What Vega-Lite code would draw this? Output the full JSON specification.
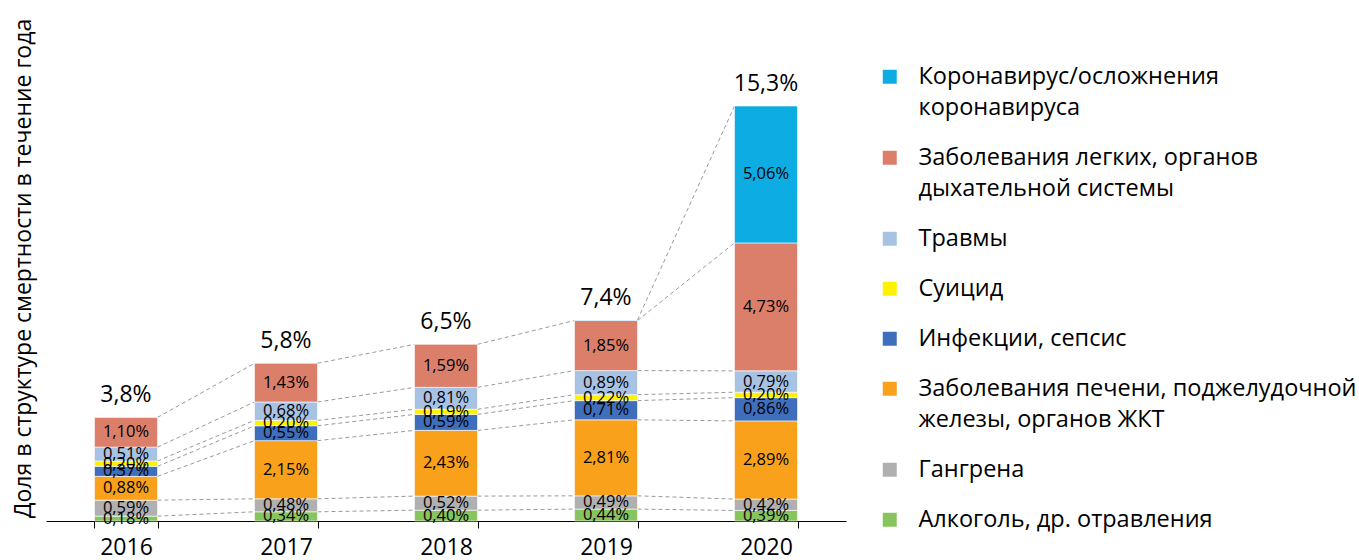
{
  "$schema": "https://vega.github.io/schema/vega-lite/v6.json",
  "autosize": {"type": "none"},
  "width": 800,
  "height": 514,
  "padding": {"left": 46, "top": 7, "right": 513, "bottom": 39},
  "data": {
    "values": [
      {"year": "2016", "cause": "Алкоголь, др. отравления", "k": 1, "value": 0.0018},
      {"year": "2016", "cause": "Гангрена", "k": 2, "value": 0.0059},
      {"year": "2016", "cause": "Заболевания печени, поджелудочной железы, органов ЖКТ", "k": 3, "value": 0.0088},
      {"year": "2016", "cause": "Инфекции, сепсис", "k": 4, "value": 0.0037},
      {"year": "2016", "cause": "Суицид", "k": 5, "value": 0.0020},
      {"year": "2016", "cause": "Травмы", "k": 6, "value": 0.0051},
      {"year": "2016", "cause": "Заболевания легких, органов дыхательной системы", "k": 7, "value": 0.0110},
      {"year": "2017", "cause": "Алкоголь, др. отравления", "k": 1, "value": 0.0034},
      {"year": "2017", "cause": "Гангрена", "k": 2, "value": 0.0048},
      {"year": "2017", "cause": "Заболевания печени, поджелудочной железы, органов ЖКТ", "k": 3, "value": 0.0215},
      {"year": "2017", "cause": "Инфекции, сепсис", "k": 4, "value": 0.0055},
      {"year": "2017", "cause": "Суицид", "k": 5, "value": 0.0020},
      {"year": "2017", "cause": "Травмы", "k": 6, "value": 0.0068},
      {"year": "2017", "cause": "Заболевания легких, органов дыхательной системы", "k": 7, "value": 0.0143},
      {"year": "2018", "cause": "Алкоголь, др. отравления", "k": 1, "value": 0.0040},
      {"year": "2018", "cause": "Гангрена", "k": 2, "value": 0.0052},
      {"year": "2018", "cause": "Заболевания печени, поджелудочной железы, органов ЖКТ", "k": 3, "value": 0.0243},
      {"year": "2018", "cause": "Инфекции, сепсис", "k": 4, "value": 0.0059},
      {"year": "2018", "cause": "Суицид", "k": 5, "value": 0.0019},
      {"year": "2018", "cause": "Травмы", "k": 6, "value": 0.0081},
      {"year": "2018", "cause": "Заболевания легких, органов дыхательной системы", "k": 7, "value": 0.0159},
      {"year": "2019", "cause": "Алкоголь, др. отравления", "k": 1, "value": 0.0044},
      {"year": "2019", "cause": "Гангрена", "k": 2, "value": 0.0049},
      {"year": "2019", "cause": "Заболевания печени, поджелудочной железы, органов ЖКТ", "k": 3, "value": 0.0281},
      {"year": "2019", "cause": "Инфекции, сепсис", "k": 4, "value": 0.0071},
      {"year": "2019", "cause": "Суицид", "k": 5, "value": 0.0022},
      {"year": "2019", "cause": "Травмы", "k": 6, "value": 0.0089},
      {"year": "2019", "cause": "Заболевания легких, органов дыхательной системы", "k": 7, "value": 0.0185},
      {"year": "2019", "cause": "Коронавирус/осложнения коронавируса", "k": 8, "value": 0.0002},
      {"year": "2020", "cause": "Алкоголь, др. отравления", "k": 1, "value": 0.0039},
      {"year": "2020", "cause": "Гангрена", "k": 2, "value": 0.0042},
      {"year": "2020", "cause": "Заболевания печени, поджелудочной железы, органов ЖКТ", "k": 3, "value": 0.0289},
      {"year": "2020", "cause": "Инфекции, сепсис", "k": 4, "value": 0.0086},
      {"year": "2020", "cause": "Суицид", "k": 5, "value": 0.0020},
      {"year": "2020", "cause": "Травмы", "k": 6, "value": 0.0079},
      {"year": "2020", "cause": "Заболевания легких, органов дыхательной системы", "k": 7, "value": 0.0473},
      {"year": "2020", "cause": "Коронавирус/осложнения коронавируса", "k": 8, "value": 0.0506}
    ]
  },
  "encoding": {
    "x": {
      "field": "year", "type": "ordinal",
      "scale": {"paddingInner": 0.606, "paddingOuter": 0.303},
      "axis": {
        "title": null, "labelAngle": 0, "labelFontSize": 23, "labelColor": "black",
        "domainColor": "black", "tickColor": "black", "tickSize": 7, "tickBand": "extent",
        "labelPadding": 8
      }
    }
  },
  "layer": [
    {
      "transform": [
        {"stack": "value", "groupby": ["year"], "sort": [{"field": "k", "order": "ascending"}], "as": ["v0", "v1"]},
        {"window": [{"op": "lead", "field": "v1", "as": "v1n"}, {"op": "lead", "field": "year", "as": "yearn"}], "groupby": ["cause"], "sort": [{"field": "year", "order": "ascending"}], "frame": [null, null]},
        {"filter": "datum.yearn != null"}
      ],
      "mark": {"type": "rule", "color": "#9a9a9a", "strokeDash": [4, 3], "strokeWidth": 1, "xOffset": 31.5, "x2Offset": -31.5},
      "encoding": {
        "x2": {"field": "yearn"},
        "y": {"field": "v1", "type": "quantitative"},
        "y2": {"field": "v1n"}
      }
    },
    {
      "mark": {"type": "bar", "stroke": "white", "strokeWidth": 0.6},
      "encoding": {
        "y": {
          "field": "value", "type": "quantitative", "stack": "zero",
          "scale": {"domain": [0, 0.19], "nice": false, "zero": true},
          "axis": {
            "title": "Доля в структуре смертности в течение года",
            "titleFontSize": 23, "titleFontWeight": "normal", "titleColor": "black",
            "titleX": -23, "titleY": 261, "titleAngle": -90, "titleAlign": "center", "titleBaseline": "middle",
            "domain": false, "ticks": false, "labels": false, "grid": false
          }
        },
        "order": {"field": "k", "type": "quantitative"},
        "color": {
          "field": "cause", "type": "nominal",
          "scale": {
            "domain": [
              "Коронавирус/осложнения коронавируса",
              "Заболевания легких, органов дыхательной системы",
              "Травмы",
              "Суицид",
              "Инфекции, сепсис",
              "Заболевания печени, поджелудочной железы, органов ЖКТ",
              "Гангрена",
              "Алкоголь, др. отравления"
            ],
            "range": ["#0dade4", "#db7f6a", "#a8c2e4", "#fff200", "#3f6ebd", "#f9a11b", "#b0b0b0", "#88c45e"]
          },
          "legend": {
            "title": null,
            "orient": "none", "legendX": 832, "legendY": 58,
            "symbolType": "square", "symbolSize": 196, "symbolStrokeWidth": 0,
            "labelFontSize": 23.5, "labelColor": "black", "labelLimit": 600, "labelOffset": 17,
            "rowPadding": 25, "padding": 0,
            "labelExpr": "datum.label == 'Коронавирус/осложнения коронавируса' ? ['Коронавирус/осложнения', 'коронавируса'] : datum.label == 'Заболевания легких, органов дыхательной системы' ? ['Заболевания легких, органов', 'дыхательной системы'] : datum.label == 'Заболевания печени, поджелудочной железы, органов ЖКТ' ? ['Заболевания печени, поджелудочной', 'железы, органов ЖКТ'] : datum.label"
          }
        }
      }
    },
    {
      "transform": [{"filter": "datum.value >= 0.001"}],
      "mark": {"type": "text", "fontSize": 16.5, "color": "black"},
      "encoding": {
        "y": {"field": "value", "type": "quantitative", "stack": "zero", "bandPosition": 0.5},
        "order": {"field": "k", "type": "quantitative"},
        "text": {"field": "value", "type": "quantitative", "format": ".2%"}
      }
    },
    {
      "transform": [{"aggregate": [{"op": "sum", "field": "value", "as": "total"}], "groupby": ["year"]}],
      "mark": {"type": "text", "fontSize": 23, "color": "black", "baseline": "bottom", "dy": -10},
      "encoding": {
        "y": {"field": "total", "type": "quantitative"},
        "text": {"field": "total", "type": "quantitative", "format": ".1%"}
      }
    }
  ],
  "config": {
    "font": "Open Sans",
    "view": {"stroke": null},
    "locale": {"number": {"decimal": ",", "thousands": " ", "grouping": [3], "currency": ["", ""]}},
    "style": {"guide-label": {"lineHeight": 31}}
  }
}
